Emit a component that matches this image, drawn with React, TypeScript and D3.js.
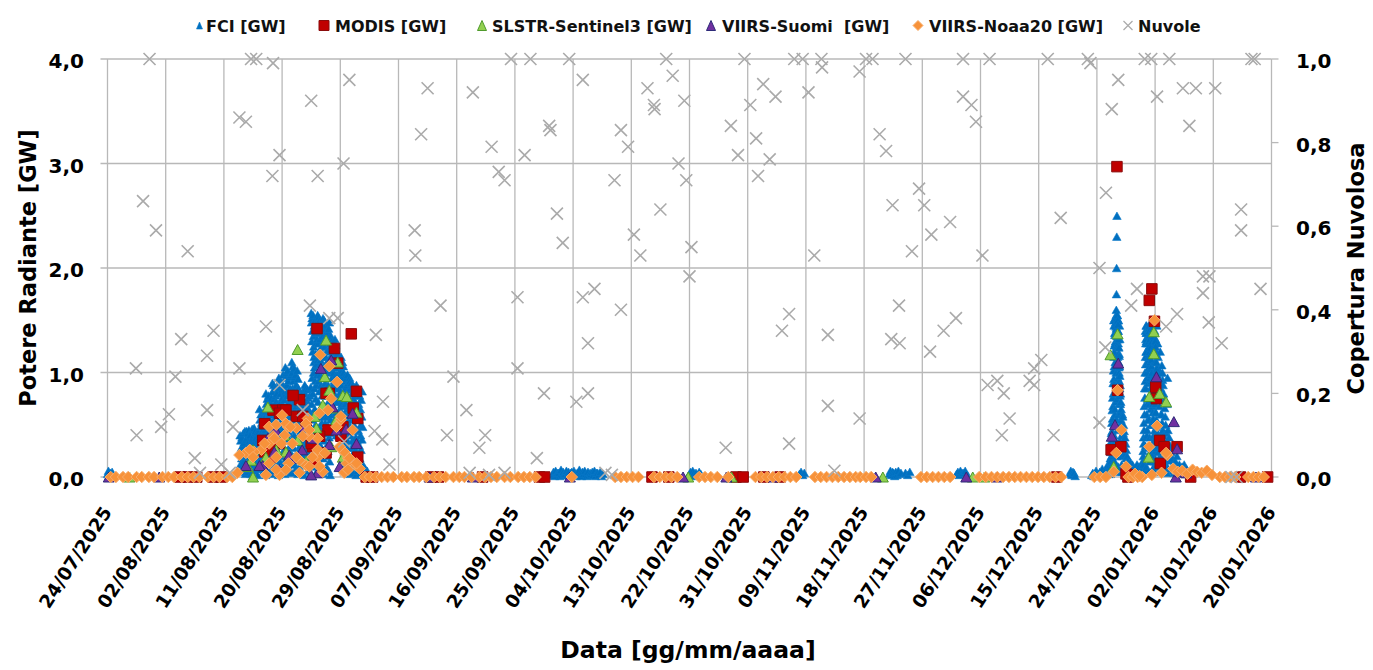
import React, { useRef, useEffect } from 'react';
import * as d3 from 'd3';

const WIDTH = 1373;
const HEIGHT = 670;
const FONT = '"DejaVu Sans", sans-serif';

// day offsets are counted from 24/07/2025
const startDate = '24/07/2025';
const tickLabels = [
    '24/07/2025', '02/08/2025', '11/08/2025', '20/08/2025', '29/08/2025', '07/09/2025', '16/09/2025',
    '25/09/2025', '04/10/2025', '13/10/2025', '22/10/2025', '31/10/2025', '09/11/2025', '18/11/2025',
    '27/11/2025', '06/12/2025', '15/12/2025', '24/12/2025', '02/01/2026', '11/01/2026', '20/01/2026',
];
const leftTicks = [0, 1, 2, 3, 4];
const rightTicks = [0, 0.2, 0.4, 0.6, 0.8, 1.0];

// FCI: [start day, values in hundredths of GW sampled through the following day]
const fciRuns: [number, string][] = [
    [0.0, '3 6 2 4 1 5 2'],
    [20.5, '40 12 35 5 28 18 38 8 22 30 42 15 33 25 10 44 20 3 36 27'],
    [21.5, '44 10 38 20 42 5 30 15 45 25 35 8 40 18 28 3 33 12 22 46 37 1'],
    [22.5, '46 12 40 22 47 6 34 16 44 28 38 10 42 20 30 2 25 36 14 43 8 32'],
    [23.5, '65 15 55 30 48 8 60 38 25 52 12 44 35 58 20 5 62 40 18 50 28 57 10 45 33 63 2'],
    [24.5, '80 20 70 40 55 10 75 48 30 65 15 58 35 78 25 5 68 45 60 50 72 28 52 12 62 38 76 18 43 3'],
    [25.5, '90 25 82 45 65 12 88 55 35 75 18 68 40 85 28 6 78 50 72 60 62 32 80 22 58 42 86 15 70 48 2 38'],
    [26.5, '95 30 88 50 70 15 92 60 40 80 20 72 45 90 32 8 84 55 76 65 66 35 98 25 58 42 86 12 74 48 3 62 82'],
    [27.5, '105 35 95 55 80 18 100 65 45 88 25 78 50 102 38 10 92 60 82 70 72 42 96 5 68 30 85 15 58 48 98 22 75 62 4'],
    [28.5, '110 30 100 60 85 20 106 70 48 92 28 80 55 104 40 12 96 64 86 74 76 45 98 8 68 34 88 16 58 50 102 24 78 62 3 94'],
    [29.5, '85 25 78 40 60 10 82 52 30 70 18 65 35 80 22 5 75 45 68 55 62 14 48 28 72 38 58 2 84 33'],
    [30.5, '88 20 80 45 62 12 85 55 32 72 15 66 38 84 24 6 76 48 70 58 64 18 50 28 78 42 60 3 86 35'],
    [31.5, '157 40 148 70 130 20 152 95 55 140 30 120 80 155 45 10 135 100 125 110 115 60 145 85 105 65 150 35 92 25 138 50 118 75 15 128 88 142 5 108 62 132 98 148 18 112'],
    [32.5, '155 38 150 72 128 22 153 92 58 138 32 118 82 150 48 12 132 98 122 108 112 62 146 88 102 66 140 28 95 52 125 78 144 8 115 42 135 68 152 18 105 85 130 3 142 58'],
    [33.5, '150 35 145 68 125 20 148 90 52 135 28 115 78 146 42 10 130 95 120 105 110 58 140 84 100 62 138 25 88 48 122 72 142 6 112 38 132 65 148 15 102 80 128 2 136 55'],
    [34.5, '134 60 125 80 110 45 130 95 70 118 50 105 88 128 75 42 100 115 92 65 122 55 85 132 48 108 78 126 62 98 40 112 72 120'],
    [35.5, '118 48 105 72 95 40 112 85 60 100 44 90 78 108 65 38 92 98 82 55 115 52 88 70 102 42 75 110 58 96 68 106'],
    [36.5, '100 20 92 45 75 10 96 60 30 85 15 70 40 94 25 5 80 50 88 65 55 35 98 12 78 52 90 28 68 42 84 3 62 18 95 48'],
    [37.5, '92 18 85 40 70 8 90 55 28 80 12 65 35 88 22 4 75 48 82 60 50 32 86 14 72 44 62 26 78 38 2 58'],
    [38.5, '88 15 80 35 60 6 85 45 22 70 10 55 30 78 18 3 65 40 50 26 74 12 58 36 82 8 48'],
    [39.5, '12 4 8 2 6 3'],
    [68.8, '2 5 1 6 3 4'], [69.8, '4 1 7 2 5 3'], [70.8, '3 6 2 5 1 4'], [71.8, '5 2 6 3 1 4'],
    [72.8, '2 7 4 1 5 3'], [73.8, '6 3 1 5 2 4'], [74.8, '3 5 2 6 1 4'], [75.8, '4 2 5 1 3'],
    [90.0, '3 5 2 6 4 1'], [91.0, '4 2 5 3'],
    [107.0, '3 5 2 4'],
    [120.9, '3 6 2 5 4 1'], [121.9, '5 2 6 3 4'], [123.4, '4 2 5'],
    [131.3, '3 5 2 6 4'], [132.3, '4 6 2'],
    [148.8, '3 6 2 5 4 1'],
    [152.2, '2 4 1 3 6 2'], [153.2, '3 1 5 2 4 8 3 1'], [154.2, '2 5 3 8 6 4 12 7 3 5 10 15'],
    [155.0, '5 12 8 18 3 24 15 32 10 26 42 20 35 52 6 44 64 30 56 76 14 68 90 40 80 102 22 94 115 50 106 126 8 118 136 60 128 146 35 138 152 72 144 155'],
    [155.6, '150 40 145 90 120 15 138 65 152 110 30 130 80 148 5 100 142 55 125 20 135 75 155 45 115 95 140 10 128 60 150 85 105 25 118 70 145 35 132 50'],
    [156.0, '160 175 200 230 250 152 155 140 150 132 146 125 140 118 132 110 124 100 116 92 106 85 97 78 88 70 80 62 72 55 65 48 30 12 40 20 5 25 60 8'],
    [157.0, '58 42 50 35 44 28 38 22 32 18 26 14 20 10 15 8 12 6'],
    [158.0, '10 6 14 4 8 12 5 9 3 7'],
    [159.0, '8 4 12 6 3 10 5 7 2 9'],
    [160.0, '6 10 8 15 12 25 20 38 32 52 45 68 60 85 76 100 92 115 108 128 120 138 130 145 5 40 70 95 18 110 55 135 28 142'],
    [160.5, '140 30 132 85 145 10 120 60 138 100 45 128 75 142 20 115 90 135 5 105 55 130 70 145 38 125 95 15 110 65 140 50 118 80 25 136'],
    [161.0, '142 130 145 125 140 120 136 115 132 110 128 104 124 98 118 92 112 86 106 80 100 74 94 68 88 62 82 56 76 50 40 30 20 10 5 35 15 45 25'],
    [161.5, '138 20 130 70 142 8 118 55 135 95 35 125 80 140 15 110 62 132 45 100 120 28 88 145 12 105 75 128 50 115'],
    [162.0, '130 70 125 62 118 55 110 48 104 42 98 36 92 30 86 24 80 18 74 14 68 10 5 120 100 85 60 40 20'],
    [163.0, '60 107 52 100 93 45 88 40 80 34 74 28 66 22 58 16 50 12 42 8 4 30 70 95 20'],
    [164.0, '45 30 38 22 30 16 24 10 18 6 12 4'],
    [165.0, '8 15 5 20 10 6 12 4'],
    [166.0, '6 10 4 12 3 8'],
];

// polar sensors: [day, GW]
const modisPoints: [number, number][] = [
    [32.4, 1.42], [37.7, 1.37], [35.1, 1.23], [35.6, 1.09], [34.3, 0.80], [38.5, 0.82], [29.7, 0.74],
    [27.4, 0.64], [25.6, 0.64], [24.0, 0.35], [38.0, 0.66], [38.7, 0.56], [30.7, 0.51], [36.1, 0.39],
    [25.6, 0.26], [31.7, 0.29], [38.7, 0.19], [27.1, 0.64], [26.6, 0.61], [24.3, 0.51], [29.2, 0.58],
    [33.8, 0.80], [34.1, 0.45], [25.3, 0.19], [31.5, 0.32], [32.0, 0.15],
    [28.7, 0.78], [27.6, 0.64], [30.2, 0.58], [36.4, 0.48], [32.8, 0.39], [26.6, 0.32], [24.3, 0.24],
    [33.8, 0.23],
    [156.1, 2.97], [161.5, 1.80], [161.1, 1.69], [161.9, 1.49], [156.2, 0.83], [162.1, 0.86],
    [162.2, 0.75], [162.7, 0.35], [163.4, 0.29], [165.4, 0.29], [162.8, 0.13], [155.2, 0.26],
    [156.7, 0.29], [157.5, 0.03], [158.4, 0.02],
];
const slstrPoints: [number, number][] = [
    [29.4, 1.22], [33.8, 1.31], [35.6, 1.10], [34.3, 0.83], [36.4, 0.78], [37.0, 0.77], [24.8, 0.67],
    [33.3, 0.69], [34.8, 0.66], [38.5, 0.62], [27.4, 0.40], [32.3, 0.47], [34.6, 0.29], [22.5, 0.26],
    [28.1, 0.21], [33.6, 0.96], [29.4, 0.35], [27.6, 0.24], [21.7, 0.10],
    [24.5, 0.19], [26.1, 0.26], [32.0, 0.58], [35.4, 0.55], [30.7, 0.15], [36.4, 0.19], [22.2, 0.16],
    [156.2, 1.37], [155.1, 1.17], [161.8, 1.39], [161.8, 1.18], [161.1, 0.77], [162.7, 0.80],
    [163.7, 0.72], [161.0, 0.19], [155.6, 0.10],
];
const suomiPoints: [number, number][] = [
    [33.0, 1.04], [34.6, 1.12], [34.8, 0.67], [37.9, 0.61], [26.0, 0.45], [24.8, 0.37], [35.4, 0.45],
    [38.5, 0.32], [30.1, 0.26], [29.2, 0.18], [21.4, 0.11], [32.5, 0.04], [31.5, 0.02], [36.9, 0.46],
    [26.6, 0.07], [24.0, 0.11],
    [30.5, 0.48], [25.8, 0.24], [31.7, 0.37], [34.3, 0.31], [28.1, 0.21], [35.9, 0.10], [23.5, 0.11],
    [156.3, 1.09], [162.2, 0.96], [164.9, 0.53], [155.3, 0.39], [155.8, 0.50], [165.4, 0.27],
    [165.9, 0.05], [166.8, 0.04],
];
const noaaPoints: [number, number][] = [
    [32.9, 1.17], [34.3, 1.06], [35.5, 0.91], [27.0, 0.59], [25.0, 0.48], [27.9, 0.48], [29.2, 0.47],
    [31.0, 0.56], [32.5, 0.37], [36.1, 0.55], [37.9, 0.45], [26.9, 0.32], [25.6, 0.39], [28.6, 0.32],
    [31.2, 0.39], [23.8, 0.26], [21.4, 0.23], [22.7, 0.24], [26.1, 0.19], [29.7, 0.16], [32.5, 0.19],
    [30.7, 0.11], [36.1, 0.27], [37.2, 0.18], [38.5, 0.11], [36.6, 0.04], [24.5, 0.02], [26.6, 0.02],
    [33.3, 0.05], [20.1, 0.04], [20.4, 0.21], [26.1, 0.50], [27.6, 0.51], [30.7, 0.51], [36.1, 0.58],
    [32.5, 0.26], [37.0, 0.13], [36.6, 0.24], [28.0, 0.13], [25.0, 0.13], [37.2, 0.07], [39.0, 0.08],
    [22.0, 0.26], [25.0, 0.32],
    [22.5, 0.19], [24.3, 0.32], [25.8, 0.37], [27.4, 0.40], [28.3, 0.48], [29.2, 0.19], [30.2, 0.39],
    [31.2, 0.45], [31.7, 0.19], [32.8, 0.10], [33.6, 0.23], [35.9, 0.29], [37.4, 0.18], [38.5, 0.13],
    [26.1, 0.07], [27.6, 0.07], [29.7, 0.04], [31.2, 0.10], [35.4, 0.48], [34.1, 0.64], [34.6, 0.75],
    [32.8, 0.61],
    [161.9, 1.50], [156.2, 0.83], [162.3, 0.49], [156.8, 0.45], [156.0, 0.23], [161.1, 0.29],
    [163.9, 0.21], [157.5, 0.10], [163.7, 0.23], [155.6, 0.05], [164.8, 0.08], [165.5, 0.05],
    [166.2, 0.06], [167.0, 0.03], [167.8, 0.07], [168.5, 0.05], [169.2, 0.04], [170.0, 0.06],
    [170.8, 0.02], [158.9, 0.03], [159.6, 0.01], [161.5, 0.02], [163.0, 0.04],
];

// days with detections at ~0 GW
const modisZeroDays = [11.2, 12.5, 13.8, 16.3, 17.6, 40.0, 41.0, 50.0, 51.2, 58.0, 66.8, 67.6, 84.2, 86.8,
    97.2, 98.3, 101.5, 104.0, 146.8, 157.8, 167.5, 175.2, 179.4];
const slstrZeroDays = [3.4, 22.5, 89.8, 96.5, 119.9, 133.8, 135.6];
const suomiZeroDays = [0.2, 8.0, 49.8, 56.5, 71.5, 89.0, 95.7, 103.0, 118.8, 132.8, 137.5, 165.2, 177.6];
const noaaZeroDays = [0.5, 1.3, 2.4, 3.2, 4.5, 5.3, 6.4, 7.2, 8.5, 9.4, 10.3, 11.5, 12.4, 13.3, 14.2, 15.5,
    16.4, 17.3, 18.5, 19.3, 39.8, 40.6, 41.5, 42.4, 43.3, 44.2, 45.5, 46.3, 47.4, 48.2, 49.3, 50.5, 51.4,
    52.3, 53.5, 54.4, 55.2, 56.3, 57.5, 58.4, 59.3, 60.2, 61.4, 62.3, 63.5, 64.4, 65.3, 66.2, 71.8, 78.5,
    79.4, 80.3, 81.2, 82.1, 84.5, 85.4, 86.3, 87.2, 88.1, 91.5, 92.4, 93.3, 94.3, 96.0, 100.2, 101.1,
    102.0, 102.9, 103.8, 104.7, 105.6, 106.5, 109.4, 110.3, 111.2, 112.1, 113.0, 113.9, 114.8, 115.7,
    116.4, 117.3, 118.1, 125.8, 126.7, 127.6, 128.5, 129.4, 130.3, 134.8, 135.8, 136.7, 137.6, 138.5,
    139.4, 140.3, 141.2, 142.1, 143.0, 143.9, 144.8, 145.7, 146.6, 147.5, 152.6, 153.5, 154.4, 157.9,
    158.6, 159.3, 160.0, 172.0, 172.8, 173.6, 174.4, 176.4, 177.2, 178.0, 178.8];

// cloud cover: [day, fraction]
const cloudPoints: [number, number][] = [
    [6.5, 1.0], [5.5, 0.66], [7.5, 0.59], [12.4, 0.54], [4.4, 0.26], [4.5, 0.10], [8.3, 0.12], [9.5, 0.15],
    [10.5, 0.24], [11.4, 0.33], [15.4, 0.29], [16.4, 0.35], [15.4, 0.16], [13.5, 0.045], [17.6, 0.03],
    [20.4, 0.86], [21.4, 0.85], [22.2, 1.0], [23.0, 1.0], [25.6, 0.99], [26.6, 0.77], [25.5, 0.72],
    [31.5, 0.90], [37.4, 0.95], [36.5, 0.75], [32.5, 0.72], [31.3, 0.41], [24.5, 0.36], [20.4, 0.26],
    [19.4, 0.12], [26.6, 0.22], [30.2, 0.16], [34.3, 0.38], [35.6, 0.38], [41.5, 0.34], [42.6, 0.18],
    [41.3, 0.11], [42.5, 0.09], [36.6, 0.085], [43.6, 0.03],
    [49.5, 0.93], [48.5, 0.82], [56.5, 0.92], [59.4, 0.79], [60.5, 0.73], [61.4, 0.71], [62.4, 1.0],
    [65.4, 1.0], [71.4, 1.0], [64.5, 0.77], [68.3, 0.84], [68.5, 0.83], [73.5, 0.95], [69.5, 0.63],
    [70.4, 0.56], [47.5, 0.59], [47.6, 0.53], [51.5, 0.41], [63.4, 0.43], [53.5, 0.24], [63.4, 0.26],
    [55.5, 0.16], [52.5, 0.10], [58.4, 0.10], [57.5, 0.07], [67.5, 0.20], [66.4, 0.045], [72.5, 0.18],
    [74.3, 0.20], [73.5, 0.43], [75.3, 0.45], [74.3, 0.32], [79.4, 0.40], [78.4, 0.71], [79.4, 0.83],
    [80.5, 0.79], [81.4, 0.58], [82.4, 0.53], [83.5, 0.93], [84.5, 0.89], [84.6, 0.88], [86.4, 1.0],
    [87.4, 0.96], [89.2, 0.90], [88.3, 0.75], [89.5, 0.71], [85.5, 0.64], [90.3, 0.55], [90.0, 0.48],
    [98.5, 1.0], [96.4, 0.84], [97.5, 0.77], [99.4, 0.89], [101.4, 0.94], [103.3, 0.91], [100.3, 0.81],
    [102.4, 0.76], [100.6, 0.72], [106.2, 1.0], [107.5, 1.0], [110.4, 1.0], [110.5, 0.98], [108.4, 0.92],
    [116.3, 0.97], [117.3, 1.0], [118.3, 1.0], [123.4, 1.0], [132.3, 1.0], [132.3, 0.91], [133.6, 0.89],
    [134.3, 0.85], [119.4, 0.82], [120.4, 0.78], [109.3, 0.53], [105.4, 0.39], [104.3, 0.35],
    [111.4, 0.34], [95.6, 0.07], [105.4, 0.08], [111.4, 0.17], [116.3, 0.14], [112.4, 0.015],
    [121.4, 0.65], [125.5, 0.69], [126.3, 0.65], [130.3, 0.61], [127.4, 0.58], [124.4, 0.54],
    [122.4, 0.41], [121.2, 0.33], [122.5, 0.32], [127.2, 0.30], [129.3, 0.35], [131.2, 0.38],
    [135.3, 0.53], [136.1, 0.22],
    [136.4, 1.0], [145.4, 1.0], [151.6, 1.0], [152.0, 0.99], [160.4, 1.0], [161.4, 1.0], [164.2, 1.0],
    [176.9, 1.0], [177.4, 1.0], [156.3, 0.95], [155.3, 0.88], [162.3, 0.91], [166.3, 0.93], [168.3, 0.93],
    [171.3, 0.93], [167.3, 0.84], [154.4, 0.68], [147.4, 0.62], [153.4, 0.50], [175.3, 0.64],
    [175.3, 0.59], [159.2, 0.45], [158.3, 0.41], [165.4, 0.39], [163.7, 0.36], [169.4, 0.48],
    [170.4, 0.48], [169.4, 0.44], [170.3, 0.37], [172.3, 0.32], [178.3, 0.45], [154.3, 0.31],
    [144.4, 0.28], [143.3, 0.26], [142.6, 0.23], [143.3, 0.22], [137.6, 0.23], [138.6, 0.20],
    [139.5, 0.14], [138.3, 0.10], [146.3, 0.10], [153.4, 0.13], [173.8, 0.0],
    [14.3, 0.01], [18.9, 0.01], [56.0, 0.01], [59.0, 0.005], [61.4, 0.01], [77.0, 0.01], [78.0, 0.005],
    [174.6, 0.0],
];

const triangle = (w: number, h: number) => `M0,${-h / 2}L${w / 2},${h / 2}L${-w / 2},${h / 2}Z`;
const square = (s: number) => `M${-s / 2},${-s / 2}h${s}v${s}h${-s}Z`;
const diamond = (s: number) => `M0,${-s / 2}L${s / 2},0L0,${s / 2}L${-s / 2},0Z`;
const cross = (s: number) => `M${-s / 2},${-s / 2}L${s / 2},${s / 2}M${s / 2},${-s / 2}L${-s / 2},${s / 2}`;

const styles = {
    fci: { d: triangle(8.5, 7.5), fill: '#0070C0', stroke: '#0a78c8', sw: 0.6 },
    modis: { d: square(10.5), fill: '#C00000', stroke: '#8a0c0c', sw: 1 },
    slstr: { d: triangle(11, 10), fill: '#92D050', stroke: '#4f9a2c', sw: 1 },
    suomi: { d: triangle(11, 10), fill: '#7030A0', stroke: '#2d2a78', sw: 1 },
    noaa: { d: diamond(11.5), fill: '#F7923A', stroke: '#f9ad6a', sw: 1 },
    cloud: { d: cross(12), fill: 'none', stroke: '#aaaaaa', sw: 1.6 },
};

const comma = (v: number) => d3.format('.1f')(v).replace('.', ',');

const App: React.FC = () => {
    const svgRef = useRef<SVGSVGElement>(null);

    useEffect(() => {
        if (!svgRef.current) return;
        const svg = d3.select(svgRef.current);
        svg.selectAll('*').remove();

        const parse = d3.utcParse('%d/%m/%Y');
        const t0 = parse(startDate) as Date;
        const dayOf = (label: string) => d3.utcDay.count(t0, parse(label) as Date);
        const lastDay = dayOf(tickLabels[tickLabels.length - 1]);

        const plot = { left: 107.5, right: 1271.5, top: 59, bottom: 477 };
        const x = d3.scaleLinear().domain([0, lastDay]).range([plot.left, plot.right]);
        const yL = d3.scaleLinear().domain([0, 4]).range([plot.bottom, plot.top]);
        const yR = d3.scaleLinear().domain([0, 1]).range([plot.bottom, plot.top]);

        svg.append('rect').attr('width', WIDTH).attr('height', HEIGHT).attr('fill', '#fff');

        // gridlines
        const grid = svg.append('g').attr('stroke', '#b8b8b8').attr('stroke-width', 1.3);
        leftTicks.forEach(v => {
            grid.append('line')
                .attr('x1', plot.left - 7).attr('x2', plot.right)
                .attr('y1', yL(v)).attr('y2', yL(v));
        });
        tickLabels.forEach(l => {
            grid.append('line')
                .attr('x1', x(dayOf(l))).attr('x2', x(dayOf(l)))
                .attr('y1', plot.top).attr('y2', plot.bottom);
        });
        rightTicks.forEach(v => {
            grid.append('line')
                .attr('x1', plot.right).attr('x2', plot.right + 7)
                .attr('y1', yR(v)).attr('y2', yR(v));
        });

        // axis labels
        const txt = svg.append('g')
            .attr('font-family', FONT).attr('font-weight', 'bold').attr('fill', '#000');
        leftTicks.forEach(v => {
            txt.append('text')
                .attr('x', 84).attr('y', yL(v) + 9)
                .attr('text-anchor', 'end').attr('font-size', 20)
                .text(comma(v));
        });
        rightTicks.forEach(v => {
            txt.append('text')
                .attr('x', 1296).attr('y', yR(v) + 9)
                .attr('font-size', 20)
                .text(comma(v));
        });
        tickLabels.forEach(l => {
            txt.append('text')
                .attr('transform', `translate(${x(dayOf(l)) + 5},512) rotate(-57)`)
                .attr('text-anchor', 'end').attr('font-size', 18.5)
                .text(l);
        });
        txt.append('text')
            .attr('transform', 'translate(36,268) rotate(-90)')
            .attr('text-anchor', 'middle').attr('font-size', 22.5)
            .text('Potere Radiante [GW]');
        txt.append('text')
            .attr('transform', 'translate(1364,268.5) rotate(-90)')
            .attr('text-anchor', 'middle').attr('font-size', 22.5)
            .text('Copertura Nuvolosa');
        txt.append('text')
            .attr('x', 688).attr('y', 658)
            .attr('text-anchor', 'middle').attr('font-size', 23.5)
            .text('Data [gg/mm/aaaa]');

        const drawSeries = (pts: [number, number][], st: typeof styles.fci, y: d3.ScaleLinear<number, number>) => {
            const g = svg.append('g');
            g.selectAll('path')
                .data(pts)
                .join('path')
                .attr('d', st.d)
                .attr('transform', d => `translate(${x(d[0])},${y(d[1])})`)
                .attr('fill', st.fill)
                .attr('stroke', st.stroke)
                .attr('stroke-width', st.sw);
        };

        const fciPts: [number, number][] = [];
        fciRuns.forEach(([start, s]) => {
            const vals = s.split(' ').map(Number);
            vals.forEach((v, i) => fciPts.push([start + i / vals.length, v / 100]));
        });
        const zeros = (days: number[]) => days.map(d => [d, 0] as [number, number]);

        drawSeries(fciPts, styles.fci, yL);
        drawSeries([...zeros(modisZeroDays), ...modisPoints], styles.modis, yL);
        drawSeries([...zeros(slstrZeroDays), ...slstrPoints], styles.slstr, yL);
        drawSeries([...zeros(suomiZeroDays), ...suomiPoints], styles.suomi, yL);
        drawSeries([...zeros(noaaZeroDays), ...noaaPoints], styles.noaa, yL);
        drawSeries(cloudPoints, styles.cloud, yR);

        // legend
        const legendItems = [
            { name: 'FCI [GW]', st: { ...styles.fci, d: triangle(6, 7) }, mx: 199.5, tx: 206 },
            { name: 'MODIS [GW]', st: { ...styles.modis, d: square(10) }, mx: 324, tx: 335 },
            { name: 'SLSTR-Sentinel3 [GW]', st: { ...styles.slstr, d: triangle(9, 10) }, mx: 482, tx: 492 },
            { name: 'VIIRS-Suomi\u00a0 [GW]', st: { ...styles.suomi, d: triangle(9, 10) }, mx: 711, tx: 722 },
            { name: 'VIIRS-Noaa20 [GW]', st: { ...styles.noaa, d: diamond(10) }, mx: 918, tx: 929 },
            { name: 'Nuvole', st: { ...styles.cloud, d: cross(9), sw: 1.2 }, mx: 1128, tx: 1138 },
        ];
        const leg = svg.append('g');
        legendItems.forEach(it => {
            leg.append('path')
                .attr('d', it.st.d)
                .attr('transform', `translate(${it.mx},25.5)`)
                .attr('fill', it.st.fill)
                .attr('stroke', it.st.stroke)
                .attr('stroke-width', it.st.sw);
            leg.append('text')
                .attr('x', it.tx).attr('y', 31.5)
                .attr('font-family', FONT).attr('font-weight', 'bold').attr('font-size', 16)
                .attr('fill', '#111')
                .text(it.name);
        });
    }, []);

    return (
        <svg
            ref={svgRef}
            width={WIDTH}
            height={HEIGHT}
            style={{ position: 'absolute', left: 0, top: 0, background: '#fff' }}
        />
    );
};

export default App;
